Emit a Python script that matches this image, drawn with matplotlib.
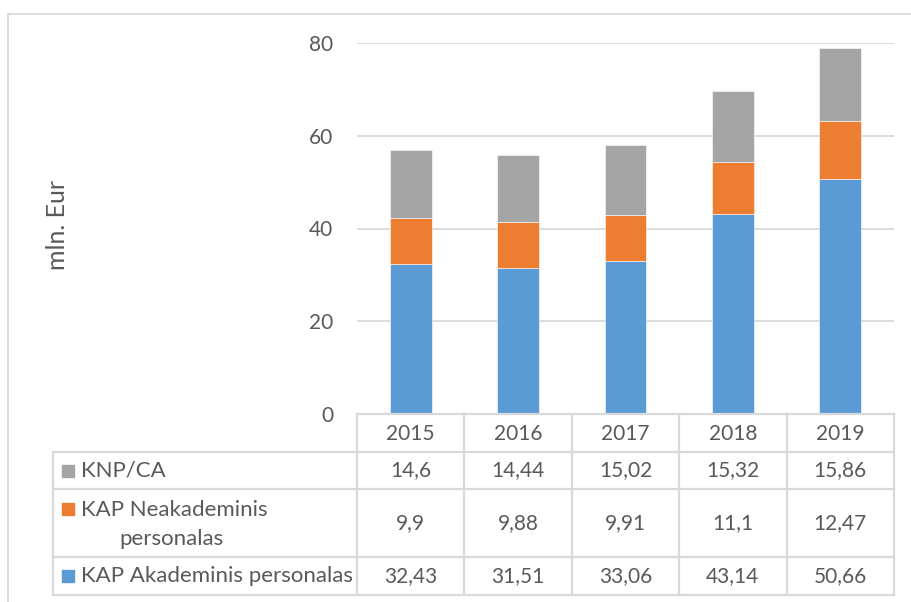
import numpy as np
import matplotlib.pyplot as plt
from matplotlib.patches import Rectangle

years = ['2015', '2016', '2017', '2018', '2019']
akadem = [32.43, 31.51, 33.06, 43.14, 50.66]
neakadem = [9.9, 9.88, 9.91, 11.1, 12.47]
knp = [14.6, 14.44, 15.02, 15.32, 15.86]

series_names = ['KNP/CA', 'KAP Neakademinis\npersonalas', 'KAP Akademinis personalas']
series_vals = [knp, neakadem, akadem]

blue = '#5B9BD5'
orange = '#ED7D31'
gray = '#A5A5A5'
series_cols = [gray, orange, blue]
txt = '#595959'
line = '#D9D9D9'

plt.rcParams['font.family'] = ['Lato', 'DejaVu Sans']
fs = 15

W, H = 912, 602
fig = plt.figure(figsize=(W / 100, H / 100), dpi=100)

# pixel geometry
x0, x1 = 357, 894
y_top, y_zero = 43, 414


def fx(px):
    return px / W


def fy(py):
    return 1 - py / H


ax = fig.add_axes([fx(x0), fy(y_zero), fx(x1) - fx(x0), fy(y_top) - fy(y_zero)])
x = np.arange(len(years))
bottom = np.zeros(len(years))
for vals, col in [(akadem, blue), (neakadem, orange), (knp, gray)]:
    ax.bar(x, vals, width=0.39, bottom=bottom, color=col, zorder=3,
           edgecolor='white', linewidth=0.4)
    bottom += np.array(vals)

ax.set_xlim(-0.5, len(years) - 0.5)
ax.set_ylim(0, 80)
ax.set_yticks([0, 20, 40, 60, 80])
ax.grid(axis='y', color=line, linewidth=1.3, zorder=0)
ax.set_xticks([])
for s in ax.spines.values():
    s.set_visible(False)
ax.tick_params(axis='y', length=0, labelsize=fs, labelcolor=txt, pad=17)
ax.patch.set_alpha(0)

# overlay for border, in pixel coordinates
ov = fig.add_axes([0, 0, 1, 1], zorder=-1)
ov.set_xlim(0, W)
ov.set_ylim(H, 0)
ov.axis('off')
ov.plot([8, 8, W + 5], [H + 5, 14, 14], color=line, lw=1.3)

# data table
ov2 = fig.add_axes([0, 0, 1, 1], zorder=5)
ov2.set_xlim(0, W)
ov2.set_ylim(H, 0)
ov2.axis('off')
ov2.patch.set_alpha(0)

col_w = (x1 - x0) / len(years)
col_edges = [x0 + i * col_w for i in range(len(years) + 1)]
leg_left = 53
row_edges = [414, 452, 489, 557, 595]
lw = 1.6

for xe in col_edges:
    ov2.plot([xe, xe], [row_edges[0], row_edges[-1]], color=line, lw=lw)
ov2.plot([x0, x1], [row_edges[0], row_edges[0]], color=line, lw=lw)
for ye in row_edges[1:]:
    ov2.plot([leg_left, x1], [ye, ye], color=line, lw=lw)
ov2.plot([leg_left, leg_left], [row_edges[1], row_edges[-1]], color=line, lw=lw)

for i, yr in enumerate(years):
    ov2.text(x0 + (i + 0.5) * col_w, (row_edges[0] + row_edges[1]) / 2 + 1, yr,
             ha='center', va='center', fontsize=fs, color=txt)

for r, (name, vals, col) in enumerate(zip(series_names, series_vals, series_cols)):
    yc = (row_edges[r + 1] + row_edges[r + 2]) / 2
    if '\n' in name:
        a, b = name.split('\n')
        ov2.add_patch(Rectangle((62, yc - 20), 12, 12, color=col))
        ov2.text(81, yc - 13, a, ha='left', va='center', fontsize=fs + 1, color=txt)
        ov2.text(119, yc + 16, b, ha='left', va='center', fontsize=fs + 1, color=txt)
    else:
        ov2.add_patch(Rectangle((62, yc - 6), 12, 12, color=col))
        ov2.text(81, yc, name, ha='left', va='center', fontsize=fs + 1, color=txt)
    for i, v in enumerate(vals):
        s = ('%g' % v).replace('.', ',')
        ov2.text(x0 + (i + 0.5) * col_w, yc, s, ha='center', va='center',
                 fontsize=fs, color=txt)

fig.text(fx(58), fy(225), 'mln. Eur', rotation=90, ha='center', va='center',
         fontsize=18, color=txt)

fig.savefig('out.png', dpi=100)
